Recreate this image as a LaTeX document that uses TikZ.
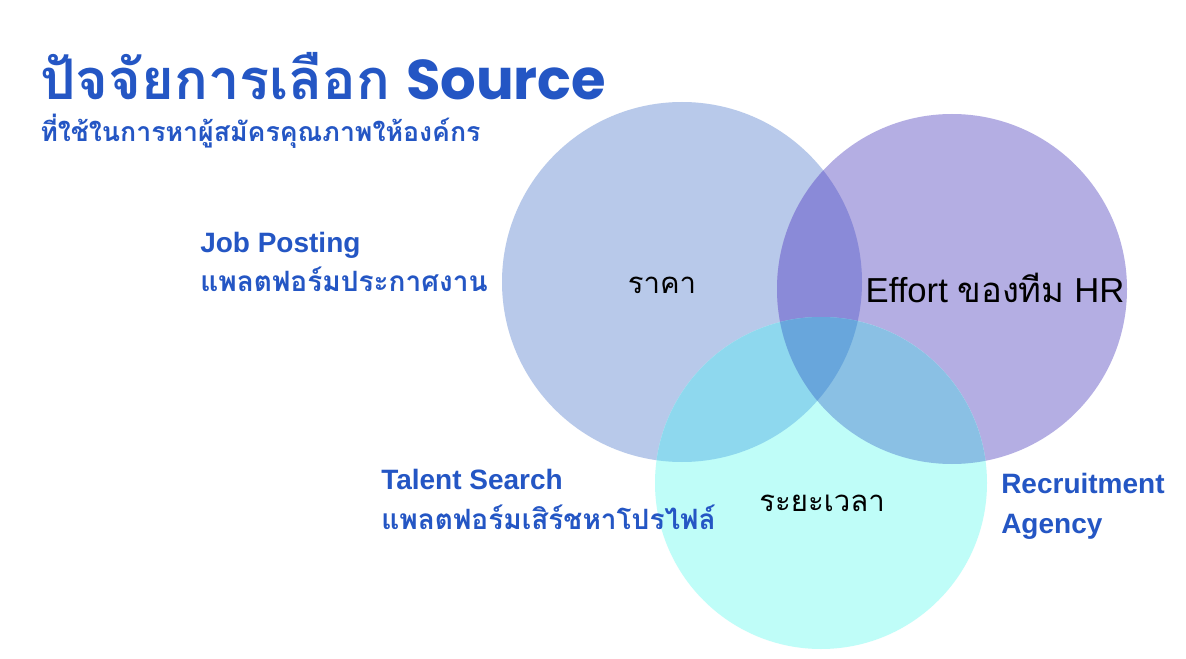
\documentclass[tikz,border=0pt]{standalone}
\usepackage{fontspec}
\setmainfont{Liberation Sans}
\newfontfamily\thaifont[Script=Thai]{Loma}
\newfontfamily\titlefont{Poppins}
\usepackage{xcolor}
\usepackage{tikz}
\usetikzlibrary{positioning}
\definecolor{titleblue}{RGB}{36,86,196}
\definecolor{priceC}{RGB}{184,201,234}
\definecolor{effortC}{RGB}{180,174,227}
\definecolor{timeC}{RGB}{191,253,248}
\definecolor{priceeffortC}{RGB}{138,138,216}
\definecolor{pricetimeC}{RGB}{142,216,238}
\definecolor{efforttimeC}{RGB}{138,192,228}
\definecolor{allC}{RGB}{104,166,220}
\tikzset{
  heading/.style={
    anchor=base west,
    inner sep=0pt,
    text=titleblue,
    font=\bfseries
  },
  source/.style={
    heading,
    align=left,
    font=\fontsize{21}{29.5}\selectfont\bfseries
  },
  factor/.style={
    inner sep=0pt,
    text=black,
    font=\fontsize{22}{26}\selectfont
  }
}
\begin{document}
\begin{tikzpicture}[x=0.75pt,y=-0.75pt]
  \useasboundingbox[fill=white] (0,0) rectangle (1186,659);
  % circles
  \coordinate (price) at (682,282);
  \coordinate (effort) at (952,289);
  \coordinate (time) at (821,483);
  \fill[priceC] (price) circle[radius=180];
  \fill[effortC] (effort) circle[radius=175];
  \fill[timeC] (time) circle[radius=166];
  %
  \begin{scope}
    \clip (price) circle[radius=180];
    \fill[priceeffortC] (effort) circle[radius=175];
    \fill[pricetimeC] (time) circle[radius=166];
  \end{scope}
  \begin{scope}
    \clip (effort) circle[radius=175];
    \fill[efforttimeC] (time) circle[radius=166];
    \clip (price) circle[radius=180];
    \fill[allC] (time) circle[radius=166];
  \end{scope}
  % title
  \node[heading, font=\fontsize{42}{48}\selectfont\bfseries] (title) at (40,100)
    {{\thaifont ปัจจัยการเลือก} {\titlefont Source}};
  \node[heading, font=\fontsize{20}{24}\selectfont\bfseries] (subtitle) at (40,142)
    {\thaifont ที่ใช้ในการหาผู้สมัครคุณภาพให้องค์กร};
  % sources (anchored on the last line)
  \node[source] (posting) at (200,292)
    {Job Posting\\{\thaifont แพลตฟอร์มประกาศงาน}};
  \node[source] (search) at (381,529)
    {Talent Search\\{\thaifont แพลตฟอร์มเสิร์ชหาโปรไฟล์}};
  \node[source] (agency) at (1001,533)
    {Recruitment\\Agency};
  % factors
  \node[factor] (cost) at (662,285) {\thaifont ราคา};
  \node[factor, font=\fontsize{26}{30}\selectfont] (hr) at (995,288) {Effort {\thaifont ของทีม} HR};
  \node[factor] (duration) at (822,503) {\thaifont ระยะเวลา};
\end{tikzpicture}
\end{document}
